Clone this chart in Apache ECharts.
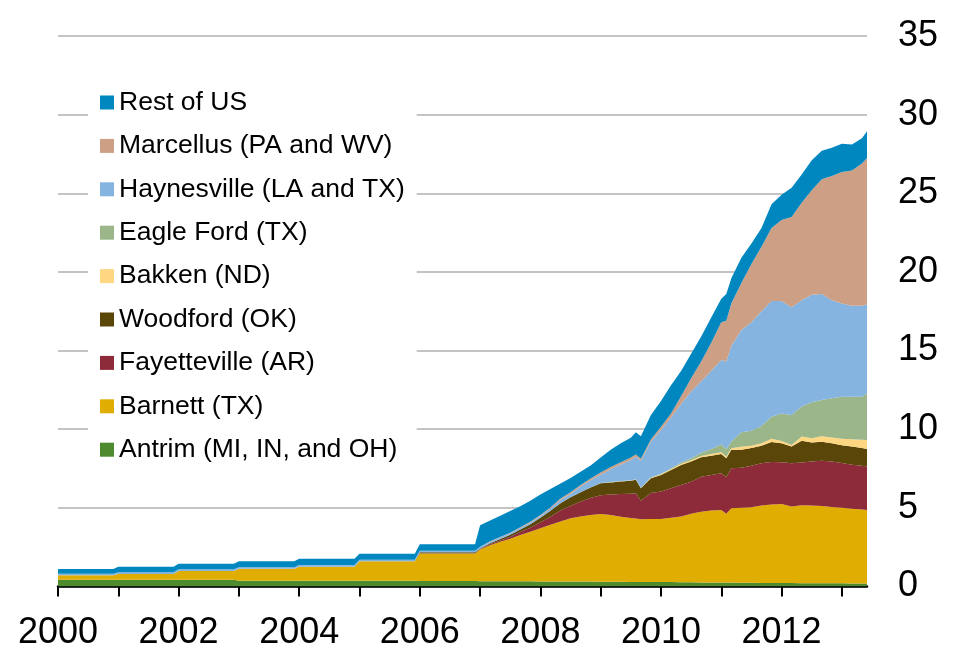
<!DOCTYPE html>
<html><head><meta charset="utf-8">
<script src="https://cdn.jsdelivr.net/npm/echarts@6/dist/echarts.min.js"></script>
<style>html,body{margin:0;padding:0;background:#fff;overflow:hidden}#c{width:953px;height:645px}</style>
</head><body><div id="c"></div>
<script>
// x positions (year-month); pre-2007 data are annual (flat within each year)
const months = [
 "2000-01","2000-12","2001-01","2001-12","2002-01","2002-12","2003-01","2003-12",
 "2004-01","2004-12","2005-01","2005-12","2006-01","2006-12",
 "2007-01","2007-03","2007-05","2007-07","2007-09","2007-11",
 "2008-01","2008-03","2008-05","2008-07","2008-09","2008-11",
 "2009-01","2009-03","2009-05","2009-07","2009-08","2009-09","2009-11",
 "2010-01","2010-03","2010-05","2010-07","2010-09","2010-11",
 "2011-01","2011-02","2011-03","2011-05","2011-07","2011-09","2011-11",
 "2012-01","2012-03","2012-05","2012-07","2012-09","2012-11",
 "2013-01","2013-03","2013-05","2013-06"
];
const antrim = [.43,.43,.43,.43,.43,.43,.36,.36,.36,.36,.36,.36,.35,.35,
 .34,.34,.34,.33,.33,.33, .32,.32,.32,.31,.31,.31, .30,.30,.30,.29,.29,.29,.28,
 .28,.28,.27,.27,.26,.26, .25,.25,.25,.24,.24,.23,.23, .22,.22,.21,.21,.20,.20, .20,.19,.19,.19];
const barnett = [.28,.28,.37,.37,.56,.56,.77,.77,.90,.90,1.24,1.24,1.75,1.75,
 2.01,2.28,2.50,2.71,2.95,3.15, 3.38,3.60,3.81,4.03,4.14,4.24, 4.31,4.25,4.14,4.06,4.03,3.98,4.01,
 4.01,4.09,4.18,4.35,4.50,4.57, 4.62,4.37,4.72,4.76,4.80,4.92,4.99, 5.03,4.86,4.96,4.94,4.92,4.85, 4.80,4.76,4.71,4.68];
const fayetteville = [0,0,0,0,0,0,0,0,0,0,0,0,.02,.02,
 .03,.06,.09,.13,.18,.25, .38,.52,.70,.78,.95,1.07, 1.19,1.30,1.44,1.55,1.61,1.18,1.65,
 1.75,1.88,2.01,2.04,2.22,2.26, 2.33,2.33,2.55,2.55,2.64,2.69,2.70, 2.65,2.76,2.71,2.80,2.87,2.89, 2.85,2.79,2.77,2.76];
const woodford = [0,0,0,0,0,0,0,0,0,0,0,0,.05,.05,
 .04,.07,.09,.12,.16,.22, .29,.38,.46,.55,.60,.68, .76,.77,.79,.82,.85,.79,.94,
 1.05,1.16,1.27,1.28,1.23,1.23, 1.23,1.20,1.17,1.14,1.12,1.11,1.26, 1.20,1.06,1.38,1.21,1.21,1.17, 1.13,1.16,1.13,1.12];
const bakken = [0,0,0,0,0,0,0,0,0,0,0,0,0,0,
 0,0,0,0,0,0, 0,0,0,0,0,0, .01,.01,.02,.02,.02,.02,.04,
 .04,.05,.07,.08,.09,.10, .10,.10,.10,.19,.15,.15,.22, .15,.10,.27,.27,.36,.36, .42,.46,.53,.57];
const eagleFord = [0,0,0,0,0,0,0,0,0,0,0,0,0,0,
 0,0,0,0,0,0, 0,0,0,0,0,0, .01,.01,.02,.02,.02,.02,.03,
 .04,.06,.08,.13,.20,.33, .52,.50,.42,.92,.95,1.10,1.40, 1.75,1.91,1.91,2.29,2.29,2.50, 2.67,2.71,2.74,2.97];
const haynesville = [.10,.10,.10,.10,.10,.10,.10,.10,.10,.10,.10,.10,.10,.10,
 .10,.10,.10,.10,.10,.11, .12,.14,.21,.21,.35,.45, .52,.81,1.04,1.29,1.43,1.72,2.25,
 2.78,3.23,3.72,4.25,4.55,4.95, 5.35,5.55,6.09,6.50,6.90,7.30,7.35, 7.15,6.84,6.76,6.83,6.75,6.23, 5.93,5.78,5.78,5.66];
const marcellus = [0,0,0,0,0,0,0,0,0,0,0,0,0,0,
 .01,.02,.02,.03,.04,.05, .06,.07,.09,.11,.10,.12, .15,.15,.15,.15,.15,.12,.15,
 .20,.25,.50,.84,1.25,1.80, 2.40,2.60,2.70,3.00,3.70,4.10,4.65, 5.15,5.75,6.20,6.65,7.30,7.90, 8.35,8.60,9.05,9.30];
const restOfUS = [.30,.30,.36,.36,.36,.36,.37,.37,.41,.41,.39,.39,.41,.41,
 1.37,1.33,1.36,1.38,1.34,1.34, 1.30,1.17,.96,.91,.85,.83, .95,1.10,1.20,1.25,1.40,1.43,1.55,
 1.65,1.80,1.60,1.56,1.60,1.60, 1.50,1.70,1.60,1.60,1.30,1.20,1.50, 1.60,1.85,1.80,1.90,1.80,1.80, 1.80,1.65,1.60,1.70];

const xTickYears = [2000,2001,2002,2003,2004,2005,2006,2007,2008,2009,2010,2011,2012,2013];
const xLabelYears = [2000,2002,2004,2006,2008,2010,2012];
const yMax = 35, yStep = 5;

const FONT = "'Liberation Sans', Arial, sans-serif";
function toYear(s){ const p = s.split('-').map(Number); return p[0] + (p[1]-1)/12; }
const xs = months.map(toYear);

const defs = [
 {name:'Antrim (MI, IN, and OH)', data:antrim, color:'#4e8a2e'},
 {name:'Barnett (TX)', data:barnett, color:'#e0ae03'},
 {name:'Fayetteville (AR)', data:fayetteville, color:'#8e2b3a'},
 {name:'Woodford (OK)', data:woodford, color:'#5a4608'},
 {name:'Bakken (ND)', data:bakken, color:'#ffd682'},
 {name:'Eagle Ford (TX)', data:eagleFord, color:'#9bb78a'},
 {name:'Haynesville (LA and TX)', data:haynesville, color:'#85b4e0'},
 {name:'Marcellus (PA and WV)', data:marcellus, color:'#cda085'},
 {name:'Rest of US', data:restOfUS, color:'#0087c0'}
];

const chart = echarts.init(document.getElementById('c'), null, {renderer:'canvas'});
chart.setOption({
 animation:false,
 backgroundColor:'#fff',
 grid:{left:58, right:86, top:36, bottom:58.5, outerBoundsMode:'none', containLabel:false},
 xAxis:{type:'value', min:xs[0], max:xs[xs.length-1],
  axisLine:{lineStyle:{color:'#000', width:2.5}},
  axisTick:{show:true, customValues:xTickYears, length:10, lineStyle:{color:'#000', width:2}},
  axisLabel:{customValues:xLabelYears, fontSize:36, color:'#000', margin:29, fontFamily:FONT,
   formatter:v => String(Math.round(v))},
  splitLine:{show:false}},
 yAxis:{type:'value', position:'right', min:0, max:yMax, interval:yStep,
  axisLine:{show:false}, axisTick:{show:false},
  axisLabel:{fontSize:36, color:'#000', margin:31, fontFamily:FONT},
  splitLine:{lineStyle:{color:'#c4c4c4', width:2}}},
 legend:{orient:'vertical', left:88, top:77, padding:12, backgroundColor:'#fff',
  itemWidth:14, itemHeight:14, itemGap:16.4, icon:'rect', selectedMode:false,
  textStyle:{fontSize:26.5, color:'#000', fontFamily:FONT},
  data:defs.map(d=>d.name).reverse()},
 series:defs.map(d=>({
  type:'line', name:d.name, stack:'total',
  // value first so the library stacks the y dimension
  data:xs.map((x,i)=>[d.data[i], x]),
  encode:{x:1, y:0},
  showSymbol:false, symbol:'none', smooth:false,
  lineStyle:{width:0, color:d.color},
  itemStyle:{color:d.color},
  areaStyle:{color:d.color, opacity:1}
 }))
});
</script></body></html>
